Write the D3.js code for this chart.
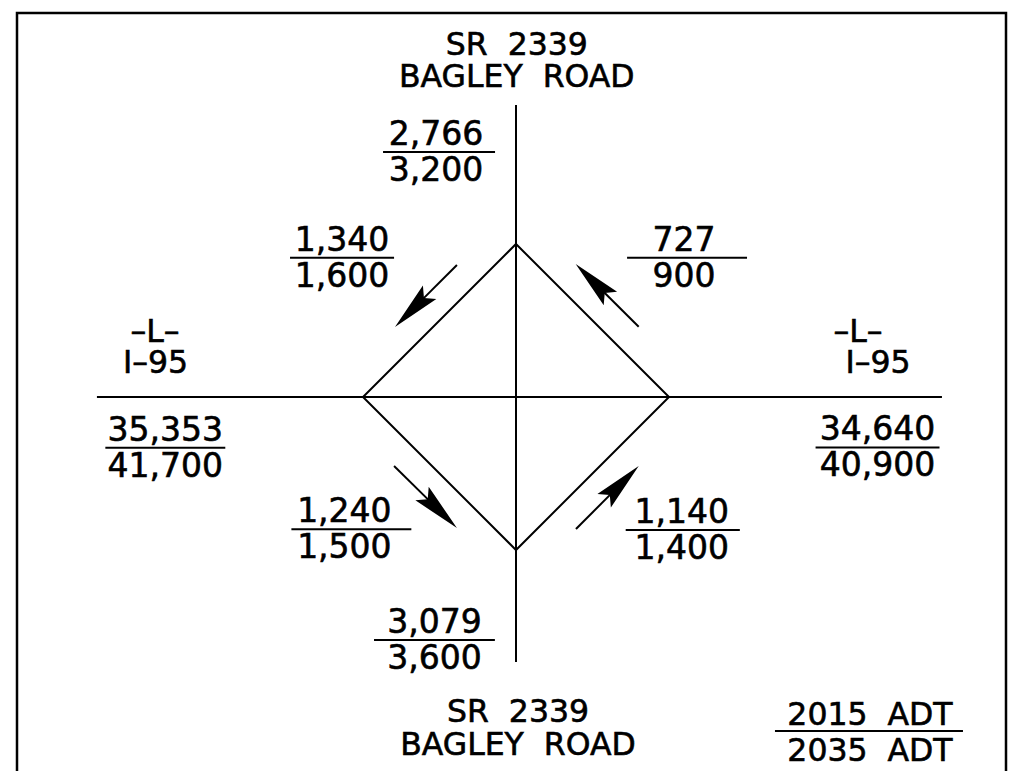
<!DOCTYPE html>
<html>
<head>
<meta charset="utf-8">
<script src="https://cdn.jsdelivr.net/npm/d3@7/dist/d3.min.js"></script>
<style>
  html, body { margin: 0; padding: 0; background: #fff; }
  svg { display: block; }
  text { font-family: "DejaVu Sans", sans-serif; fill: #000; stroke: #000; stroke-width: 0.6px; white-space: pre; }
</style>
</head>
<body>
<svg id="chart" width="1009" height="771"></svg>
<script>
// ---------------- DATA ----------------
const roadName = ["SR  2339", "BAGLEY  ROAD"];
const interstateName = ["–L–", "I–95"];
const legendLabels = ["2015  ADT", "2035  ADT"];

const approaches = ["N", "S", "W", "E"];
const approachADT2015 = [2766, 3079, 35353, 34640];
const approachADT2035 = [3200, 3600, 41700, 40900];

const ramps = ["NW", "NE", "SW", "SE"];
const rampADT2015 = [1340, 727, 1240, 1140];
const rampADT2035 = [1600, 900, 1500, 1400];

// ---------------- LAYOUT (diagram units: diamond radius = 1) ----------------
const approachLayout = {
  N: { u: -0.503, v: 1.601, hw: 0.366, dx: -3 },
  S: { u: -0.533, v: -1.588, hw: 0.395, dx: 0 },
  W: { u: -2.292, v: -0.331, hw: 0.392, dx: 0 },
  E: { u: 2.363, v: -0.330, hw: 0.405, dx: 0 }
};
const rampLayout = {
  NW: { u: -1.137, v: 0.910, hw: 0.340, dx: 0, tail: [-0.386, 0.863], tip: [-0.791, 0.458] },
  NE: { u: 1.118, v: 0.910, hw: 0.392, dx: -3, tail: [0.802, 0.459], tip: [0.390, 0.869] },
  SW: { u: -1.076, v: -0.865, hw: 0.392, dx: -7, tail: [-0.797, -0.451], tip: [-0.386, -0.856] },
  SE: { u: 1.090, v: -0.869, hw: 0.373, dx: -1, tail: [0.392, -0.863], tip: [0.802, -0.451] }
};
const roadExtent = { north: 1.908, south: -1.732, west: -2.739, east: 2.784 };

// ---------------- SCALES ----------------
const R = 153;
const x = d3.scaleLinear().domain([-1, 1]).range([516 - R, 516 + R]);
const y = d3.scaleLinear().domain([-1, 1]).range([397 + R, 397 - R]);
const fmt = d3.format(",");

const svg = d3.select("#chart");

// border frame
svg.append("path")
  .attr("d", "M17,800 L17,13 L1006,13 L1006,800")
  .attr("fill", "none").attr("stroke", "#000").attr("stroke-width", 2.5);

const g = svg.append("g");
const line = d3.line().x(d => x(d[0])).y(d => y(d[1]));

// roads
g.append("path").attr("d", line([[0, roadExtent.north], [0, roadExtent.south]]))
  .attr("stroke", "#000").attr("stroke-width", 2).attr("fill", "none");
g.append("path").attr("d", line([[roadExtent.west, 0], [roadExtent.east, 0]]))
  .attr("stroke", "#000").attr("stroke-width", 2).attr("fill", "none");

// diamond interchange
g.append("path").attr("d", line([[0, 1], [1, 0], [0, -1], [-1, 0]]) + "Z")
  .attr("stroke", "#000").attr("stroke-width", 2).attr("fill", "none")
  .attr("stroke-linejoin", "miter");

// ramp arrows
ramps.forEach(k => {
  const L = rampLayout[k];
  const x1 = x(L.tail[0]), y1 = y(L.tail[1]), x2 = x(L.tip[0]), y2 = y(L.tip[1]);
  const ang = Math.atan2(y2 - y1, x2 - x1) * 180 / Math.PI;
  const len = Math.hypot(x2 - x1, y2 - y1);
  const ag = g.append("g").attr("transform", `translate(${x1},${y1}) rotate(${ang})`);
  ag.append("line").attr("x1", 0).attr("y1", 0).attr("x2", len - 40).attr("y2", 0)
    .attr("stroke", "#000").attr("stroke-width", 2);
  ag.append("path")
    .attr("d", `M${len},0 L${len - 49},-9.5 L${len - 41},0 L${len - 49},9.5 Z`)
    .attr("fill", "#000");
});

// fraction labels
function fraction(cx, cy, hw, dx, top, bottom) {
  const px = x(cx), py = y(cy), w = hw * R;
  g.append("line").attr("x1", px - w).attr("x2", px + w).attr("y1", py).attr("y2", py)
    .attr("stroke", "#000").attr("stroke-width", 2);
  g.append("text").attr("x", px + dx).attr("y", py - 7).attr("text-anchor", "middle")
    .attr("font-size", 33).text(top);
  g.append("text").attr("x", px + dx).attr("y", py + 29).attr("text-anchor", "middle")
    .attr("font-size", 33).text(bottom);
}
approaches.forEach((k, i) => {
  const L = approachLayout[k];
  fraction(L.u, L.v, L.hw, L.dx, fmt(approachADT2015[i]), fmt(approachADT2035[i]));
});
ramps.forEach((k, i) => {
  const L = rampLayout[k];
  fraction(L.u, L.v, L.hw, L.dx, fmt(rampADT2015[i]), fmt(rampADT2035[i]));
});

// road names (top & bottom)
[[2.235, 2.026, 0.005], [-2.122, -2.340, 0.013]].forEach(([v1, v2, u]) => {
  g.append("text").attr("x", x(u)).attr("y", y(v1)).attr("text-anchor", "middle")
    .attr("font-size", 31.5).text(roadName[0]);
  g.append("text").attr("x", x(u)).attr("y", y(v2)).attr("text-anchor", "middle")
    .attr("font-size", 31.5).text(roadName[1]);
});

// interstate names (left & right)
[[-2.359, -2.356], [2.235, 2.366]].forEach(([u1, u2]) => {
  g.append("text").attr("x", x(u1)).attr("y", y(0.359)).attr("text-anchor", "middle")
    .attr("font-size", 31.5).text(interstateName[0]);
  g.append("text").attr("x", x(u2)).attr("y", y(0.157)).attr("text-anchor", "middle")
    .attr("font-size", 31.5).text(interstateName[1]);
});

// legend
(function () {
  const cx = x(2.307), cy = y(-2.183), w = 94;
  g.append("line").attr("x1", cx - w).attr("x2", cx + w).attr("y1", cy).attr("y2", cy)
    .attr("stroke", "#000").attr("stroke-width", 2);
  g.append("text").attr("x", cx + 1).attr("y", cy - 6).attr("text-anchor", "middle")
    .attr("font-size", 31.5).text(legendLabels[0]);
  g.append("text").attr("x", cx + 1).attr("y", cy + 30).attr("text-anchor", "middle")
    .attr("font-size", 31.5).text(legendLabels[1]);
})();
</script>
</body>
</html>
